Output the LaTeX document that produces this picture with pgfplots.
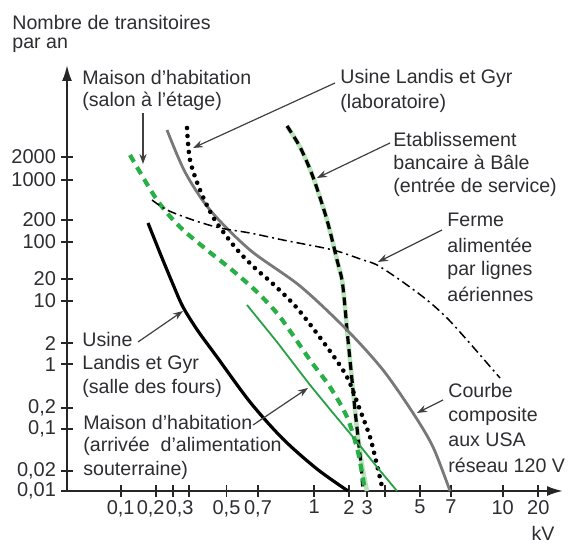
\documentclass[border=0pt]{standalone}
\usepackage{fontspec}
\setmainfont{Liberation Sans}
\usepackage{pgfplots}
\pgfplotsset{compat=1.18}
\usetikzlibrary{arrows.meta}
\definecolor{txt}{RGB}{45,45,50}
\definecolor{gcurve}{RGB}{120,120,120}
\definecolor{gdash}{RGB}{40,175,70}
\definecolor{gthin}{RGB}{40,160,70}
\definecolor{halo}{RGB}{185,228,185}
\newcommand{\lab}[3]{\node[anchor=west,inner sep=0pt,text=txt,font=\fontsize{9.8}{11}\selectfont] at (axis cs:#1,#2) {#3};}
\newcommand{\ann}[4]{\draw[-{Stealth[length=5pt,width=3.6pt]},black!75,line width=0.6pt] (axis cs:#1,#2) -- (axis cs:#3,#4);}
\begin{document}
\begin{tikzpicture}
\begin{axis}[
  x=0.5pt, y=0.5pt,
  xmin=67, xmax=563, ymin=54, ymax=480,
  axis lines=left,
  axis line style={line width=1pt, draw=black!85, -{Latex[length=8pt,width=5pt]}},
  clip=false,
  tick align=center,
  major tick length=6pt,
  tick style={line width=0.9pt, black!85},
  xtick={120.7,156,172.7,189,226.5,258,314.3,349,367.3,385.3,420,451,502.7,538.3},
  xticklabels={{0,1},{\hspace*{-5.3pt}0,2},{\hspace*{7pt}0,3},{},{0,5},{0,7},{1},{2},{3},{},{5},{7},{10},{20}},
  ytick={54,74.3,116,137.3,180.7,201.7,244,266,303.3,325,365,388.3},
  yticklabels={{0,01},{0,02},{0,1},{0,2},{1},{2},{10},{20},{100},{200},{1000},{2000}},
  ticklabel style={text=txt, font=\fontsize{10}{12}\selectfont},
  xticklabel style={yshift=2pt},
  yticklabel style={xshift=1pt},
]
\path (axis cs:0,0) rectangle (axis cs:568,545);
% Etablissement bancaire a Bale (halo + black dashed)
\addplot[halo, line width=2.3pt, smooth] coordinates {(287,419) (300,398) (313,368) (327,325) (337,285) (342,265) (345,238) (347,215) (352,165) (355,135) (358,108) (362,80) (367,54)};
\addplot[black, line width=1.6pt, smooth, dash pattern=on 4pt off 2.5pt] coordinates {(287,419) (300,398) (313,368) (327,325) (337,285) (342,265) (345,238) (347,215) (352,165) (355,135) (358,108) (361,80) (363,54)};
% Courbe composite USA (gray)
\addplot[gcurve, line width=1.4pt, smooth] coordinates {(167,415) (185,373) (210,335) (250,295) (300,259) (347,215) (383,175) (413,132) (433,98) (450,54)};
% Usine Landis et Gyr (laboratoire) dotted
\addplot[black, line width=2.3pt, line cap=round, dash pattern=on 0pt off 4pt, smooth] coordinates {(187,417) (190,385) (200,355) (213,328) (227,308) (240,292) (257,275) (272,262) (297,237) (327,198) (347,168) (360,135) (370,108) (377,80) (383,54)};
% Maison salon a l'etage (green dashed)
\addplot[gdash, line width=2.1pt, dash pattern=on 4pt off 3pt, smooth] coordinates {(130,390) (157,345) (180,318) (207,295) (232,275) (257,253) (280,228) (310,185) (330,158) (347,128) (358,93) (365,54)};
% Maison arrivee souterraine (thin green)
\addplot[gthin, line width=0.9pt] coordinates {(247,240) (277,203) (310,160) (333,132) (353,108) (377,78) (397,54)};
% Usine salle des fours (black solid)
\addplot[black, line width=1.6pt, smooth] coordinates {(148,322) (160,292) (172,263) (183,238) (198,214) (217,188) (250,143) (283,106) (317,76) (348,54)};
% Ferme (dash-dot)
\addplot[black, line width=0.75pt, dash pattern=on 4.5pt off 2pt on 1pt off 2pt, smooth] coordinates {(152,345) (167,335) (193,325) (220,317) (250,312) (283,305) (333,295) (363,285) (377,280) (400,265) (427,245) (447,227) (467,205) (487,182) (500,167)};
% annotation arrows
\ann{143}{432}{143}{381}
\ann{335}{462}{193}{397}
\ann{390}{402}{317}{367}
\ann{442}{315}{378}{283}
\ann{443}{145}{417}{132}
\ann{138}{203}{183}{234}
\ann{253}{120}{308}{157}
% labels
\lab{12}{522}{Nombre de transitoires}
\lab{12}{500}{par an}
\lab{82}{467}{Maison d'habitation}
\lab{82}{444}{(salon à l'étage)}
\lab{340}{467}{Usine Landis et Gyr}
\lab{340}{442}{(laboratoire)}
\lab{393}{405}{Etablissement}
\lab{393}{383}{bancaire à Bâle}
\lab{393}{358}{(entrée de service)}
\lab{447}{325}{Ferme}
\lab{447}{300}{alimentée}
\lab{447}{275}{par lignes}
\lab{447}{251}{aériennes}
\lab{448}{154}{Courbe}
\lab{448}{129}{composite}
\lab{448}{105}{aux USA}
\lab{448}{80}{réseau 120 V}
\lab{82}{205}{Usine}
\lab{82}{181}{Landis et Gyr}
\lab{82}{157}{(salle des fours)}
\lab{83}{122}{Maison d'habitation}
\lab{83}{99}{(arrivée\ \ d'alimentation}
\lab{83}{75}{souterraine)}
\node[text=txt,font=\fontsize{9.8}{11}\selectfont,inner sep=0pt] at (axis cs:543,12) {kV};
\end{axis}
\end{tikzpicture}
\end{document}
